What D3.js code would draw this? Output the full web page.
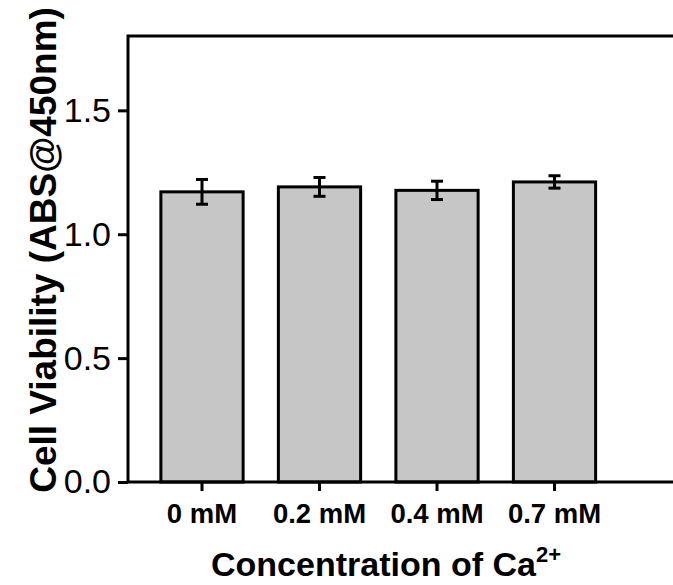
<!DOCTYPE html>
<html>
<head>
<meta charset="utf-8">
<script src="https://cdn.jsdelivr.net/npm/d3@7"></script>
<style>
  body { margin: 0; background: #fff; }
  svg { display: block; }
</style>
</head>
<body>
<div id="chart"></div>
<script>
const categories = ["0 mM", "0.2 mM", "0.4 mM", "0.7 mM"];
const viability = [1.171, 1.191, 1.177, 1.211];
const errors = [0.050, 0.038, 0.037, 0.025];
const yTicks = [0.0, 0.5, 1.0, 1.5];

let width = 673, height = 585;

let margin = {
  top: 36,
  bottom: 103,
  left: 128,
  right: 0
};

let svg = d3.select('#chart')
  .append('svg')
  .attr('width', width)
  .attr('height', height);

let xscale = d3.scaleBand()
  .domain(categories)
  .range([143.25, 613.25])
  .paddingInner(0.3)
  .paddingOuter(0.15);

let yscale = d3.scaleLinear()
  .domain([0, 1.8])
  .range([height - margin.bottom, margin.top]);

// bars
svg.selectAll('rect.bar')
  .data(categories)
  .enter()
  .append('rect')
  .attr('class', 'bar')
  .attr('x', d => xscale(d))
  .attr('y', (d, i) => yscale(viability[i]))
  .attr('width', xscale.bandwidth())
  .attr('height', (d, i) => yscale(0) - yscale(viability[i]))
  .attr('fill', '#c6c6c6')
  .attr('stroke', 'black')
  .attr('stroke-width', 3);

// error bars
let eb = svg.selectAll('g.err')
  .data(categories)
  .enter()
  .append('g')
  .attr('class', 'err')
  .attr('stroke', 'black')
  .attr('stroke-width', 3);

eb.append('line')
  .attr('x1', d => xscale(d) + xscale.bandwidth() / 2)
  .attr('x2', d => xscale(d) + xscale.bandwidth() / 2)
  .attr('y1', (d, i) => yscale(viability[i] + errors[i]))
  .attr('y2', (d, i) => yscale(viability[i] - errors[i]));

eb.append('line')
  .attr('x1', d => xscale(d) + xscale.bandwidth() / 2 - 6)
  .attr('x2', d => xscale(d) + xscale.bandwidth() / 2 + 6)
  .attr('y1', (d, i) => yscale(viability[i] + errors[i]))
  .attr('y2', (d, i) => yscale(viability[i] + errors[i]));

eb.append('line')
  .attr('x1', d => xscale(d) + xscale.bandwidth() / 2 - 6)
  .attr('x2', d => xscale(d) + xscale.bandwidth() / 2 + 6)
  .attr('y1', (d, i) => yscale(viability[i] - errors[i]))
  .attr('y2', (d, i) => yscale(viability[i] - errors[i]));

// axes
let yaxis = svg.append('g')
  .attr('transform', `translate(${margin.left},0)`)
  .call(d3.axisLeft(yscale).tickValues(yTicks).tickFormat(d3.format('.1f')).tickSize(10).tickPadding(7));

yaxis.select('.domain').remove();
yaxis.selectAll('line').attr('stroke-width', 3);
yaxis.selectAll('text')
  .style('font-family', 'Liberation Sans, Arial, sans-serif')
  .style('font-size', '34px')
  .attr('fill', 'black');

let xaxis = svg.append('g')
  .attr('transform', `translate(0,${height - margin.bottom})`)
  .call(d3.axisBottom(xscale).tickSize(9).tickPadding(12));

xaxis.select('.domain').remove();
xaxis.selectAll('line').attr('stroke-width', 3);
xaxis.selectAll('text')
  .style('font-family', 'Liberation Sans, Arial, sans-serif')
  .style('font-size', '27.5px')
  .style('font-weight', 'bold')
  .attr('fill', 'black');

// frame: left, bottom, top
svg.append('path')
  .attr('d', `M${width},${margin.top}H${margin.left}V${height - margin.bottom}H${width}`)
  .attr('fill', 'none')
  .attr('stroke', 'black')
  .attr('stroke-width', 3);

// axis titles
let xt = svg.append('text')
  .attr('x', 386)
  .attr('y', 576)
  .attr('text-anchor', 'middle')
  .style('font-family', 'Liberation Sans, Arial, sans-serif')
  .style('font-size', '34px')
  .style('font-weight', 'bold')
  .text('Concentration of Ca');
xt.append('tspan')
  .attr('dy', -14)
  .style('font-size', '22px')
  .text('2+');

svg.append('text')
  .attr('x', -250)
  .attr('y', 56)
  .attr('transform', 'rotate(-90)')
  .attr('text-anchor', 'middle')
  .style('font-family', 'Liberation Sans, Arial, sans-serif')
  .style('font-size', '37px')
  .style('font-weight', 'bold')
  .text('Cell Viability (ABS@450nm)');
</script>
</body>
</html>
